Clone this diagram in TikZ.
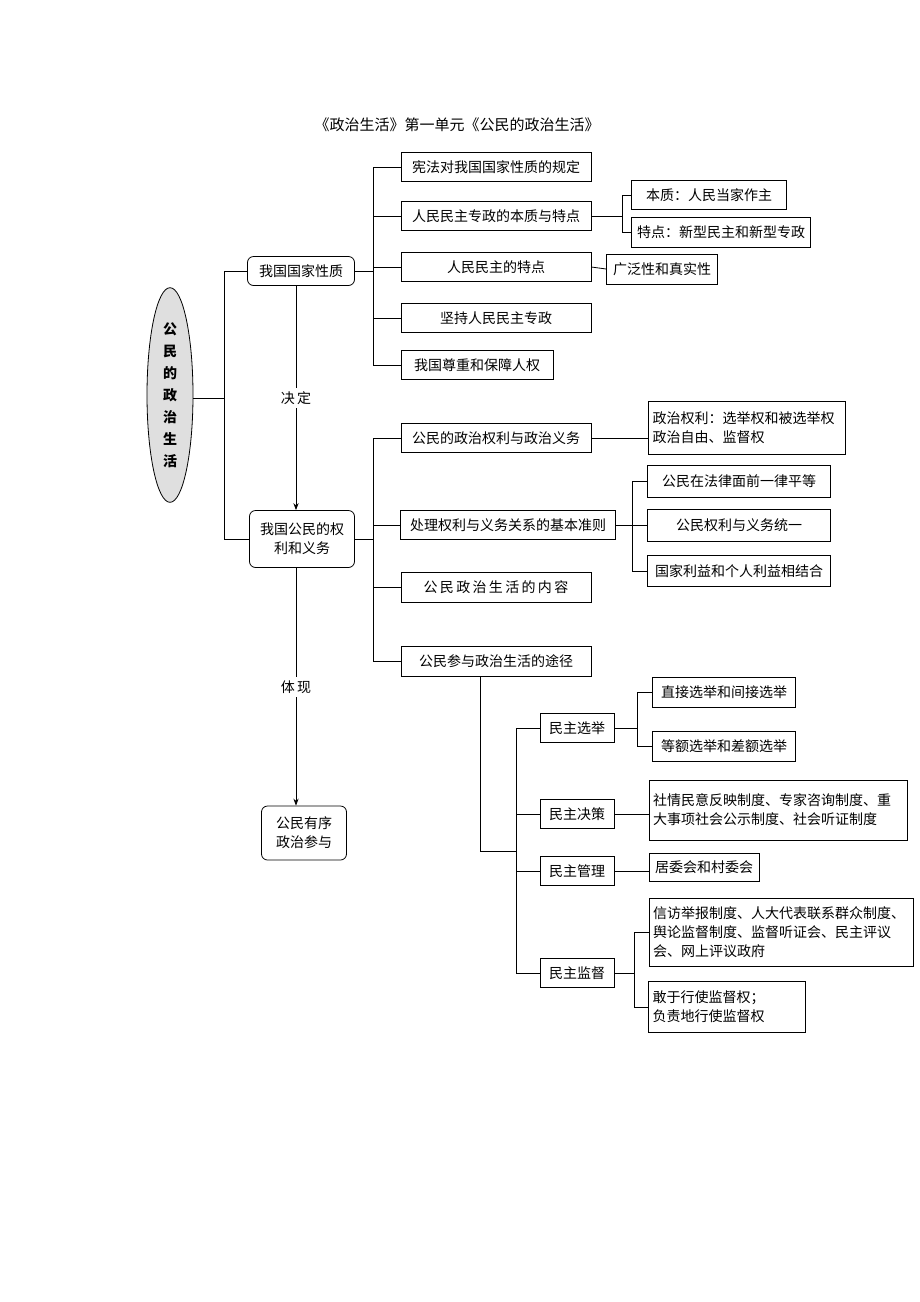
\documentclass[tikz,border=0pt]{standalone}
\usepackage{fontspec}
\setmainfont{Noto Sans CJK SC}
\usetikzlibrary{shapes.geometric, arrows.meta}
\tikzset{
  box/.style={draw, thick, inner sep=3pt, font=\fontsize{14}{19}\selectfont, anchor=center},
  rbox/.style={box, rounded corners=6pt, align=center},
  lbox/.style={box, align=left, text width=#1, inner xsep=4pt},
  link/.style={thick}
}
\begin{document}
\begin{tikzpicture}[x=1pt,y=-1pt]
\useasboundingbox (0,0) rectangle (920,1302);
\node[font=\fontsize{15}{19}\selectfont] (title) at (457,125) {《政治生活》第一单元《公民的政治生活》};

% root
\node[draw, thick, ellipse, fill=gray!25, minimum width=46pt, minimum height=205pt, align=center,
  font=\bfseries\fontsize{14}{22}\selectfont] (root) at (170,395) {公\\民\\的\\政\\治\\生\\活};
\node[rbox, minimum width=107pt, minimum height=29pt] (nature) at (301,271) {我国国家性质};
\node[rbox, minimum width=105pt, minimum height=57pt] (rights) at (302,539) {我国公民的权\\利和义务};
\node[rbox, minimum width=85pt, minimum height=54pt] (order) at (304,833) {公民有序\\政治参与};
\coordinate (rj) at (224,398);
\coordinate (axis) at (296,0);
\draw[link] (root.east |- rj) -- (rj) |- (nature.west);
\draw[link] (rj) |- (rights.west);
\draw[link, -{Stealth[length=7pt]}] (axis |- nature.south) -- node[fill=white, font=\fontsize{14}{19}\selectfont] {决\,定} (axis |- rights.north);
\draw[link, -{Stealth[length=7pt]}] (axis |- rights.south) -- node[fill=white, font=\fontsize{14}{19}\selectfont] {体\,现} (axis |- order.north);

% nature branch
\node[box, minimum width=190pt, minimum height=29pt] (n1) at (496,167) {宪法对我国国家性质的规定};
\node[box, minimum width=190pt, minimum height=29pt] (n2) at (496,216) {人民民主专政的本质与特点};
\node[box, minimum width=190pt, minimum height=29pt] (n3) at (496,267) {人民民主的特点};
\node[box, minimum width=190pt, minimum height=29pt] (n4) at (496,318) {坚持人民民主专政};
\node[box, minimum width=152pt, minimum height=29pt] (n5) at (477,365) {我国尊重和保障人权};
\coordinate (nj) at (373,271);
\draw[link] (nature.east) -- (nj);
\draw[link] (373,167) -- (373,365);
\foreach \n in {n1,n2,n3,n4,n5} \draw[link] (nj |- \n.west) -- (\n.west);
\node[box, minimum width=155pt, minimum height=29pt] (n21) at (709,195) {本质：人民当家作主};
\node[box, minimum width=179pt, minimum height=30pt] (n22) at (721,232) {特点：新型民主和新型专政};
\coordinate (n2j) at (622,216);
\draw[link] (n2.east) -- (n2j);
\draw[link] (n2j |- n21.west) -- (n2j |- n22.west);
\draw[link] (n2j |- n21.west) -- (n21.west);
\draw[link] (n2j |- n22.west) -- (n22.west);
\node[box, minimum width=111pt, minimum height=30pt] (n31) at (662,269) {广泛性和真实性};
\draw[link] (n3.east) -- (n31.west);

% rights branch
\node[box, minimum width=190pt, minimum height=29pt] (r1) at (496,438) {公民的政治权利与政治义务};
\node[box, minimum width=215pt, minimum height=29pt] (r2) at (508,525) {处理权利与义务关系的基本准则};
\node[box, minimum width=190pt, minimum height=30pt] (r3) at (496,587) {公\,民\,政\,治\,生\,活\,的\,内\,容};
\node[box, minimum width=190pt, minimum height=30pt] (r4) at (496,661) {公民参与政治生活的途径};
\coordinate (rrj) at (373,539);
\draw[link] (rights.east) -- (rrj);
\draw[link] (373,438) -- (373,661);
\foreach \n in {r1,r2,r3,r4} \draw[link] (rrj |- \n.west) -- (\n.west);
\node[lbox=189pt, minimum height=53pt] (r11) at (747,428) {政治权利：选举权和被选举权\\政治自由、监督权};
\draw[link] (r1.east) -- (r1.east -| r11.west);
\node[box, minimum width=183pt, minimum height=32pt] (r21) at (739,481) {公民在法律面前一律平等};
\node[box, minimum width=183pt, minimum height=32pt] (r22) at (739,525) {公民权利与义务统一};
\node[box, minimum width=183pt, minimum height=31pt] (r23) at (739,571) {国家利益和个人利益相结合};
\coordinate (r2j) at (632,525);
\draw[link] (r2.east) -- (r2j);
\draw[link] (r2j |- r21.west) -- (r2j |- r23.west);
\foreach \n in {r21,r22,r23} \draw[link] (r2j |- \n.west) -- (\n.west);

% ways
\node[box, minimum width=74pt, minimum height=29pt] (w1) at (577,728) {民主选举};
\node[box, minimum width=74pt, minimum height=29pt] (w2) at (577,814) {民主决策};
\node[box, minimum width=74pt, minimum height=29pt] (w3) at (577,871) {民主管理};
\node[box, minimum width=74pt, minimum height=29pt] (w4) at (577,973) {民主监督};
\coordinate (wj) at (516,851);
\draw[link] (480,676) |- (wj);
\draw[link] (516,728) -- (516,973);
\foreach \n in {w1,w2,w3,w4} \draw[link] (wj |- \n.west) -- (\n.west);
\node[box, minimum width=143pt, minimum height=30pt] (w11) at (724,692) {直接选举和间接选举};
\node[box, minimum width=143pt, minimum height=30pt] (w12) at (724,746) {等额选举和差额选举};
\coordinate (w1j) at (637,728);
\draw[link] (w1.east) -- (w1j);
\draw[link] (w1j |- w11.west) -- (w1j |- w12.west);
\foreach \n in {w11,w12} \draw[link] (w1j |- \n.west) -- (\n.west);
\node[lbox=250pt, minimum height=60pt] (w21) at (778,810) {社情民意反映制度、专家咨询制度、重\\大事项社会公示制度、社会听证制度};
\draw[link] (w2.east) -- (w2.east -| w21.west);
\node[box, minimum width=110pt, minimum height=28pt] (w31) at (704,867) {居委会和村委会};
\draw[link] (w3.east) -- (w3.east -| w31.west);
\node[lbox=256pt, minimum height=68pt] (w41) at (781,932) {信访举报制度、人大代表联系群众制度、\\舆论监督制度、监督听证会、民主评议\\会、网上评议政府};
\node[lbox=149pt, minimum height=51pt] (w42) at (727,1007) {敢于行使监督权；\\负责地行使监督权};
\coordinate (w4j) at (634,973);
\draw[link] (w4.east) -- (w4j);
\draw[link] (w4j |- w41.west) -- (w4j |- w42.west);
\foreach \n in {w41,w42} \draw[link] (w4j |- \n.west) -- (\n.west);
\end{tikzpicture}
\end{document}
